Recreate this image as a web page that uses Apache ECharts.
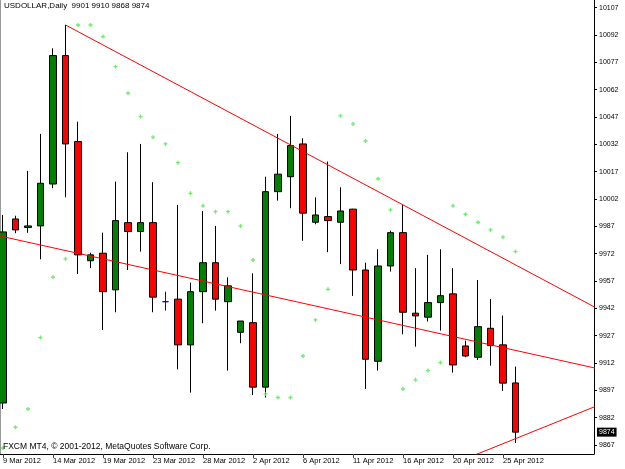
<!DOCTYPE html>
<html>
<head>
<meta charset="utf-8">
<title>USDOLLAR,Daily</title>
<script src="https://cdn.jsdelivr.net/npm/echarts@6/dist/echarts.min.js"></script>
<style>
    html, body { margin: 0; padding: 0; background: #fff; }
    #main { width: 625px; height: 469px; }
</style>
</head>
<body>
<div id="main"></div>
<script>
//日期 (FXCM 周日也有K线)
var dates = ['9 Mar 2012', '11 Mar 2012', '12 Mar 2012', '13 Mar 2012', '14 Mar 2012', '15 Mar 2012', '16 Mar 2012',
    '18 Mar 2012', '19 Mar 2012', '20 Mar 2012', '21 Mar 2012', '22 Mar 2012', '23 Mar 2012', '25 Mar 2012',
    '26 Mar 2012', '27 Mar 2012', '28 Mar 2012', '29 Mar 2012', '30 Mar 2012', '1 Apr 2012', '2 Apr 2012',
    '3 Apr 2012', '4 Apr 2012', '5 Apr 2012', '6 Apr 2012', '8 Apr 2012', '9 Apr 2012', '10 Apr 2012',
    '11 Apr 2012', '12 Apr 2012', '13 Apr 2012', '15 Apr 2012', '16 Apr 2012', '17 Apr 2012', '18 Apr 2012',
    '19 Apr 2012', '20 Apr 2012', '22 Apr 2012', '23 Apr 2012', '24 Apr 2012', '25 Apr 2012', '26 Apr 2012'];

//开高低收
var opens = [9890.0, 9991.0, 9986.3, 9987.2, 10010.2, 10080.7, 10033.5, 9968.1, 9972.2, 9952.1, 9989.0, 9984.1, 9989.0, 9945.6,
    9947.0, 9921.9, 9951.1, 9967.0, 9945.6, 9928.8, 9934.1, 9898.7, 10006.0, 10014.2, 10032.2, 9989.2, 9992.3, 9989.2,
    9996.4, 9963.0, 9912.9, 9965.2, 9983.5, 9939.3, 9937.1, 9945.1, 9949.9, 9921.3, 9915.1, 9931.0, 9921.9, 9901];
var highs = [9993.2, 9992.8, 10017.4, 10037.7, 10084.7, 10097.5, 10044.4, 9972.5, 9983.5, 10011.5, 10027.6, 10032.2, 10011.2, 9951.1,
    9998.7, 9956.1, 9995.4, 9987.2, 9959.0, 9935.0, 9961.2, 10014.2, 10037.7, 10047.6, 10035.3, 10002.9, 10022.5, 10008.4,
    9996.6, 9967.0, 9974.4, 9984.6, 9998.7, 9964.0, 9971.3, 9974.4, 9964.0, 9924.2, 9957.5, 9947.1, 9938.0, 9910];
var lows = [9886.7, 9983.2, 9983.4, 9968.9, 10007.9, 10002.9, 9960.8, 9964.0, 9930.1, 9939.8, 9963.0, 9973.1, 9939.8, 9940.7,
    9908.5, 9895.7, 9933.8, 9940.7, 9907.8, 9922.8, 9894.4, 9893.0, 10001.1, 9996.9, 9979.0, 9988.1, 9972.8, 9966.2,
    9948.8, 9897.7, 9907.8, 9962.1, 9927.7, 9920.9, 9934.7, 9929.7, 9906.7, 9915.1, 9913.6, 9910.5, 9896.6, 9868];
var closes = [9983.9, 9985.0, 9987.2, 10010.6, 10080.7, 10032.2, 9971.3, 9971.3, 9951.1, 9990.1, 9984.1, 9989.0, 9948.1, 9945.6,
    9921.9, 9951.1, 9967.0, 9947.0, 9954.3, 9935.0, 9898.7, 10006.0, 10015.6, 10031.3, 9994.2, 9993.2, 9990.1, 9995.4,
    9963.0, 9914.0, 9965.2, 9983.5, 9939.8, 9937.8, 9945.1, 9948.9, 9910.9, 9915.8, 9931.9, 9921.5, 9900.9, 9874];

//抛物线SAR
var sar = [9865.3, 9876.7, 9886.7, 9925.9, 9959.0, 9969.1, 10097.5, 10097.5, 10091.1, 10074.6, 10060.0, 10047.2, 10035.9, 10032.2,
    10021.9, 10005.1, 9998.2, 9995.0, 9995.0, 9987.2, 9968.5, 9895.0, 9893.0, 9893.0, 9915.8, 9935.6, 9952.4, 10047.6,
    10043.2, 10033.8, 10013.1, 9996.0, 9897.7, 9902.7, 9907.8, 9912.2, 9998.2, 9993.6, 9989.2, 9985.0, 9981.0, 9973.1];

//趋势线 [K线序号, 价格]
var trendUpper = [[5, 10097.5], [48, 9940.2]];
var trendMiddle = [[-1, 9982.8], [48, 9908.2]];
var trendLower = [[36, 9856.6], [48, 9889.8]];

//刻度
var priceTicks = [9867, 9882, 9897, 9912, 9927, 9942, 9957, 9972, 9987, 10002, 10017, 10032, 10047, 10062, 10077, 10092, 10107];
var dateTicks = [0, 4, 8, 12, 16, 20, 24, 28, 32, 36, 40];

(function () {
    var myChart = echarts.init(document.getElementById('main'));
    var font = 'Liberation Sans';
    var last = opens.length - 1;

    //K线数据 [序号, 开, 收, 低, 高]
    var candles = [];
    for (var i = 0; i < opens.length; i++) {
        var item = { value: [i, opens[i], closes[i], lows[i], highs[i]] };
        //十字星用蓝色
        if (opens[i] === closes[i]) {
            item.itemStyle = { borderColor: '#0000ff', borderColor0: '#0000ff', borderColorDoji: '#0000ff' };
        }
        candles.push(item);
    }
    var sarData = sar.map(function (v, i) { return [i, v]; });

    var title = 'USDOLLAR,Daily  ' + opens[last] + ' ' + highs[last] + ' ' + lows[last] + ' ' + closes[last];

    option = {
        animation: false,
        backgroundColor: '#fff',
        title: [
            {
                text: title, left: 4, top: 2, padding: 0,
                textStyle: { fontSize: 8, fontWeight: 'normal', color: '#000', fontFamily: font }
            },
            {
                text: 'FXCM MT4, © 2001-2012, MetaQuotes Software Corp.', left: 3, top: 442, padding: 0,
                textStyle: { fontSize: 8.5, fontWeight: 'normal', color: '#000', fontFamily: font }
            }
        ],
        grid: { left: 0, right: 31, top: 0, bottom: 15 },
        xAxis: {
            type: 'value',
            min: -0.24,
            max: 47.28,
            splitLine: { show: false },
            axisLine: { show: true, onZero: false, lineStyle: { color: '#000', width: 1 } },
            axisTick: { show: true, customValues: dateTicks, length: 4, lineStyle: { color: '#444' } },
            axisLabel: {
                customValues: dateTicks,
                formatter: function (v) { return dates[v]; },
                align: 'left', margin: 3,
                fontSize: 7.5, color: '#000', fontFamily: font
            }
        },
        yAxis: [
            {
                type: 'value',
                position: 'right',
                min: 9862,
                max: 10111.2,
                splitLine: { show: false },
                axisLine: { show: true, onZero: false, lineStyle: { color: '#000', width: 1 } },
                axisTick: { show: true, customValues: priceTicks, length: 3, lineStyle: { color: '#000' } },
                axisLabel: {
                    customValues: priceTicks,
                    formatter: function (v) { return String(v); },
                    margin: 5,
                    fontSize: 7, color: '#000', fontFamily: font
                }
            },
            {
                //左边框
                type: 'value',
                position: 'left',
                min: 9862,
                max: 10111.2,
                splitLine: { show: false },
                axisLine: { show: true, onZero: false, lineStyle: { color: '#999' } },
                axisTick: { show: false },
                axisLabel: { show: false }
            }
        ],
        series: [
            {
                type: 'candlestick',
                data: candles,
                encode: { x: 0, y: [1, 2, 3, 4] },
                barWidth: 7,
                itemStyle: {
                    color: '#008000',
                    color0: '#ff0000',
                    borderColor: '#000',
                    borderColor0: '#000',
                    borderColorDoji: '#0000ff',
                    borderWidth: 1
                },
                markLine: {
                    silent: true,
                    symbol: 'none',
                    lineStyle: { color: 'rgba(0,0,0,0)', width: 1, type: 'solid' },
                    label: {
                        show: true, position: 'end', distance: 3,
                        formatter: String(closes[last]),
                        backgroundColor: '#000', color: '#fff', padding: [1, 2],
                        fontSize: 7, fontFamily: font
                    },
                    emphasis: { disabled: true },
                    data: [{ yAxis: closes[last] }]
                }
            },
            {
                type: 'line', data: trendUpper, symbol: 'none', silent: true,
                lineStyle: { color: '#ff0000', width: 1 }, z: 3
            },
            {
                type: 'line', data: trendMiddle, symbol: 'none', silent: true,
                lineStyle: { color: '#ff0000', width: 1 }, z: 3
            },
            {
                type: 'line', data: trendLower, symbol: 'none', silent: true,
                lineStyle: { color: '#ff0000', width: 1 }, z: 3
            },
            {
                type: 'scatter',
                data: sarData,
                symbol: 'path://M1,0h1v1h1v1h-1v1h-1v-1h-1v-1h1z',
                symbolSize: 4,
                itemStyle: { color: '#44ee44' },
                silent: true,
                z: 4
            }
        ]
    };

    myChart.setOption(option);
})();
</script>
</body>
</html>
